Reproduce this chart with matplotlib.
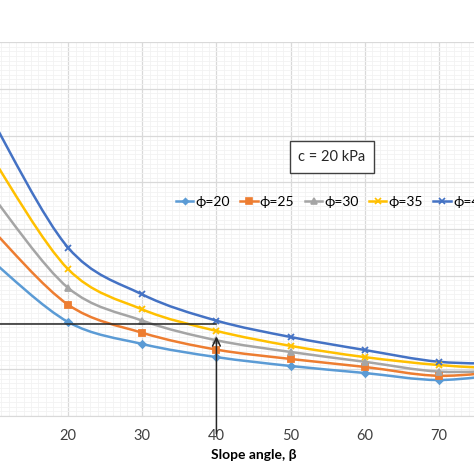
import matplotlib
matplotlib.use("Agg")
import matplotlib.pyplot as plt
from matplotlib.path import Path
from matplotlib.patches import PathPatch
from matplotlib.lines import Line2D
from matplotlib.ticker import MultipleLocator

plt.rcParams['font.family'] = ['Lato', 'DejaVu Sans']

slope_angle = [10, 20, 30, 40, 50, 60, 70, 80]
phi_labels = ['ϕ=20', 'ϕ=25', 'ϕ=30', 'ϕ=35', 'ϕ=40']
phi20 = [1.64, 1.005, 0.77, 0.63, 0.535, 0.46, 0.385, 0.46]
phi25 = [1.97, 1.19, 0.89, 0.71, 0.61, 0.525, 0.43, 0.49]
phi30 = [2.33, 1.37, 1.02, 0.81, 0.685, 0.58, 0.475, 0.49]
phi35 = [2.73, 1.57, 1.14, 0.91, 0.75, 0.63, 0.545, 0.50]
phi40 = [3.13, 1.80, 1.30, 1.02, 0.845, 0.706, 0.58, 0.56]
series = [phi20, phi25, phi30, phi35, phi40]
colors = ['#5B9BD5', '#ED7D31', '#A5A5A5', '#FFC000', '#4472C4']
markers = ['D', 's', '^', 'x', 'x']
msizes = [3.5, 5, 5, 5, 5]

ref_y = 0.98
ref_x = 40
arrow_tip_y = 0.85


def smooth_path(xs, ys):
    pts = list(zip(xs, ys))
    n = len(pts)
    verts = [pts[0]]
    codes = [Path.MOVETO]
    for i in range(n - 1):
        p0 = pts[i - 1] if i > 0 else pts[i]
        p1 = pts[i]
        p2 = pts[i + 1]
        p3 = pts[i + 2] if i + 2 < n else pts[i + 1]
        c1 = (p1[0] + (p2[0] - p0[0]) / 6, p1[1] + (p2[1] - p0[1]) / 6)
        c2 = (p2[0] - (p3[0] - p1[0]) / 6, p2[1] - (p3[1] - p1[1]) / 6)
        verts += [c1, c2, p2]
        codes += [Path.CURVE4] * 3
    return Path(verts, codes)


fig = plt.figure(figsize=(4.74, 4.74), dpi=100)
W = H = 474.0
ax = fig.add_axes([-6 / W, (H - 416) / H, 519 / W, 374 / H])
ax.set_xlim(10, 80)
ax.set_ylim(0, 4)

ax.xaxis.set_major_locator(MultipleLocator(10))
ax.xaxis.set_minor_locator(MultipleLocator(1))
ax.yaxis.set_major_locator(MultipleLocator(0.5))
ax.yaxis.set_minor_locator(MultipleLocator(0.05))
ax.grid(which='major', color='#D9D9D9', lw=0.9)
ax.grid(which='minor', color='#F2F2F2', lw=0.6)
ax.set_axisbelow(True)
for s in ['top', 'right', 'left']:
    ax.spines[s].set_visible(False)
ax.spines['bottom'].set_color('#D9D9D9')
ax.tick_params(which='both', length=0)
ax.tick_params(axis='x', labelsize=10.5, labelcolor='#404040', pad=9)
ax.set_yticklabels([])
ax.set_xticks([20, 30, 40, 50, 60, 70])
ax.set_xticklabels(['20', '30', '40', '50', '60', '70'])
ax.set_xlabel('Slope angle, β', fontsize=10, fontweight='bold', labelpad=5)

handles = []
for ys, c, m, ms, lab in zip(series, colors, markers, msizes, phi_labels):
    ax.add_patch(PathPatch(smooth_path(slope_angle, ys), fill=False,
                           edgecolor=c, lw=1.8, zorder=3))
    ax.plot(slope_angle, ys, linestyle='none', marker=m, ms=ms, color=c,
            mec=c, mew=1.3, zorder=4)
    handles.append(Line2D([], [], color=c, lw=1.8, marker=m, ms=ms * 0.85,
                          mew=1.2, label=lab))

ax.plot([10, ref_x], [ref_y, ref_y], color='#262626', lw=1.1, zorder=5)
ax.annotate('', xy=(ref_x, arrow_tip_y), xytext=(ref_x, -0.19),
            xycoords='data', textcoords='data', annotation_clip=False,
            arrowprops=dict(arrowstyle='->', color='#262626', lw=1.1,
                            mutation_scale=14, shrinkA=0, shrinkB=0),
            zorder=6)

fig.legend(handles=handles, loc='center left',
           bbox_to_anchor=(176 / W, 1 - 202 / H), ncol=5, frameon=False,
           fontsize=10, handlelength=1.25, handletextpad=0.15,
           columnspacing=0.75, borderaxespad=0, borderpad=0)

fig.text(332 / W, 1 - 157 / H, 'c = 20 kPa', ha='center', va='center',
         fontsize=10.5, color='#262626',
         bbox=dict(boxstyle='square,pad=0.6', fc='white', ec='#404040', lw=1.0))

fig.savefig('out.png', dpi=100)
